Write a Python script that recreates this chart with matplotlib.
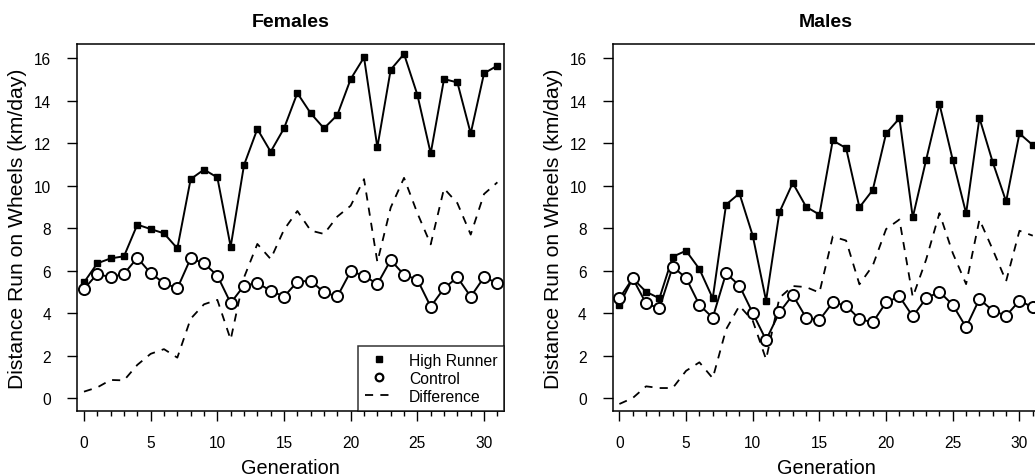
import matplotlib
matplotlib.use("Agg")
import matplotlib.pyplot as plt
from matplotlib.lines import Line2D
from matplotlib.ticker import MultipleLocator

plt.rcParams["font.family"] = ["Liberation Sans", "DejaVu Sans"]

generation = list(range(32))

# Females
fem_high = [5.44, 6.34, 6.57, 6.67, 8.16, 7.95, 7.75, 7.04, 10.3, 10.75, 10.38, 7.12,
            10.96, 12.66, 11.59, 12.69, 14.35, 13.4, 12.69, 13.32, 15.01, 16.03, 11.8, 15.45,
            16.19, 14.27, 11.51, 15.01, 14.85, 12.45, 15.28, 15.64]
fem_control = [5.13, 5.84, 5.68, 5.84, 6.6, 5.87, 5.41, 5.16, 6.57, 6.34, 5.76, 4.47,
               5.29, 5.41, 5.05, 4.77, 5.47, 5.52, 4.97, 4.78, 5.96, 5.76, 5.36, 6.49,
               5.8, 5.57, 4.3, 5.16, 5.68, 4.77, 5.68, 5.41]
fem_diff = [0.3, 0.5, 0.85, 0.83, 1.56, 2.08, 2.3, 1.9, 3.73, 4.41, 4.62, 2.75,
            5.67, 7.25, 6.54, 7.92, 8.8, 7.88, 7.72, 8.54, 9.05, 10.3, 6.4, 8.96,
            10.36, 8.7, 7.23, 9.86, 9.17, 7.69, 9.6, 10.15]

# Males
male_high = [4.38, 5.63, 5.0, 4.69, 6.65, 6.93, 6.07, 4.69, 9.1, 9.63, 7.64, 4.58,
             8.74, 10.12, 9.0, 8.63, 12.12, 11.76, 8.97, 9.79, 12.45, 13.16, 8.5, 11.2,
             13.84, 11.2, 8.69, 13.18, 11.09, 9.25, 12.45, 11.9]
male_control = [4.69, 5.63, 4.45, 4.22, 6.18, 5.65, 4.38, 3.78, 5.87, 5.29, 4.0, 2.73,
                4.03, 4.85, 3.78, 3.67, 4.5, 4.35, 3.72, 3.56, 4.5, 4.78, 3.84, 4.69,
                5.0, 4.38, 3.33, 4.66, 4.11, 3.87, 4.58, 4.27]
male_diff = [-0.28, 0.0, 0.55, 0.47, 0.47, 1.28, 1.68, 0.93, 3.23, 4.34, 3.64, 1.82,
             4.71, 5.27, 5.22, 4.96, 7.6, 7.41, 5.35, 6.23, 7.95, 8.4, 4.75, 6.51,
             8.7, 6.82, 5.36, 8.4, 6.98, 5.5, 7.87, 7.64]

panels = [("Females", fem_high, fem_control, fem_diff),
          ("Males", male_high, male_control, male_diff)]

fig = plt.figure(figsize=(10.35, 4.77), dpi=100)
# male panel runs a little past the right edge, as in the original
positions = [[0.0747, 0.1363, 0.4123, 0.7694],
             [0.592, 0.1363, 0.4123, 0.7694]]

axes = []
for pos, (title, high, control, diff) in zip(positions, panels):
    ax = fig.add_axes(pos)
    ax.plot(generation, diff, color="black", lw=1.3, ls=(0, (4.5, 4)))
    ax.plot(generation, high, color="black", lw=1.4, marker="s", ms=5,
            markerfacecolor="black")
    ax.plot(generation, control, color="black", lw=1.4, marker="o", ms=8,
            markerfacecolor="white", markeredgewidth=1.4)
    ax.set_xlim(-0.5, 31.5)
    ax.set_ylim(-0.61, 16.66)
    ax.xaxis.set_major_locator(MultipleLocator(5))
    ax.xaxis.set_minor_locator(MultipleLocator(1))
    ax.yaxis.set_major_locator(MultipleLocator(2))
    ax.tick_params(axis="both", which="major", direction="out", length=7.2,
                   width=1, labelsize=11.2)
    ax.tick_params(axis="x", which="major", pad=10)
    ax.tick_params(axis="y", which="major", pad=11.5)
    ax.tick_params(axis="x", which="minor", direction="out", length=3.5, width=1)
    for s in ax.spines.values():
        s.set_linewidth(1.1)
    ax.set_title(title, fontsize=14, fontweight="bold", pad=13)
    ax.set_xlabel("Generation", fontsize=14.3, labelpad=6)
    ax.set_ylabel("Distance Run on Wheels (km/day)", fontsize=15.2, labelpad=5)
    axes.append(ax)

handles = [
    Line2D([], [], color="black", marker="s", ms=4.5, ls="none"),
    Line2D([], [], color="black", marker="o", ms=5.5, markerfacecolor="white",
           markeredgewidth=1.6, ls="none"),
    Line2D([], [], color="black", lw=1.3, ls=(0, (4.5, 4))),
]
leg = axes[0].legend(handles, ["High Runner", "Control", "Difference"],
                     loc="lower left", bbox_to_anchor=(0.658, 0.0, 0.342, 0.2),
                     mode="expand", borderaxespad=0, fontsize=11.3,
                     frameon=True, fancybox=False, handlelength=1.7,
                     handletextpad=1.1, labelspacing=0.2, borderpad=0.45)
leg.get_frame().set_edgecolor("black")
leg.get_frame().set_linewidth(1.1)

fig.savefig("out.png", dpi=100)
